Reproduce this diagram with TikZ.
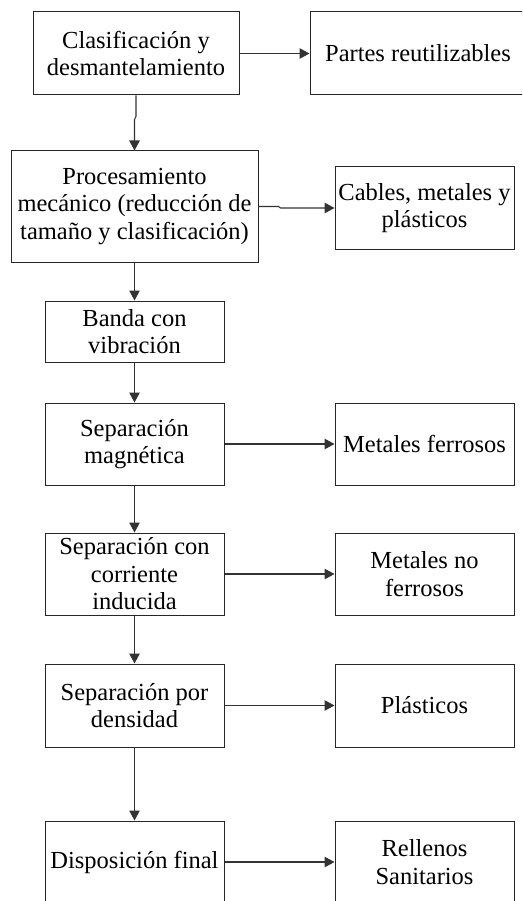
\documentclass[tikz,border=0pt]{standalone}
\usepackage{fontspec}
\setmainfont{Liberation Serif}
\usetikzlibrary{arrows.meta}
\tikzset{
  box/.style={draw=black!85, line width=1pt, rectangle, align=center, inner sep=0pt,
    font=\fontsize{24.5}{27.5}\selectfont, text=black},
  arr/.style={draw=black!80, line width=1.1pt, -{Triangle[length=10pt,width=10.5pt]}}
}
\begin{document}
\begin{tikzpicture}[x=1pt,y=-1pt]
\useasboundingbox (0,0) rectangle (522,901);
\clip (0,0) rectangle (522,901);
\fill[white] (0,0) rectangle (522,901);
\node[box, minimum width=206pt, minimum height=83pt] (b1) at (136,53.5) {Clasificación y\\desmantelamiento};
\node[box, minimum width=216pt, minimum height=83pt] (b2) at (418,53.5) {Partes reutilizables};
\node[box, minimum width=247pt, minimum height=111pt] (proc) at (134.5,206.5) {Procesamiento\\mecánico (reducción de\\tamaño y clasificación)};
\node[box, minimum width=179pt, minimum height=82pt] (cables) at (424.5,208) {Cables, metales y\\plásticos};
\node[box, minimum width=179pt, minimum height=61pt] (banda) at (134.5,331.5) {Banda con\\vibración};
\node[box, minimum width=179pt, minimum height=82pt] (sm) at (134.5,444) {Separación\\magnética};
\node[box, minimum width=179pt, minimum height=82pt] (mf) at (424.5,444) {Metales ferrosos};
\node[box, minimum width=179pt, minimum height=82pt] (sc) at (134.5,574) {Separación con\\corriente\\inducida};
\node[box, minimum width=179pt, minimum height=82pt] (mnf) at (424.5,574) {Metales no\\ferrosos};
\node[box, minimum width=179pt, minimum height=83pt] (sd) at (134.5,705.5) {Separación por\\densidad};
\node[box, minimum width=179pt, minimum height=83pt] (pl) at (424.5,705.5) {Plásticos};
\node[box, minimum width=179pt, minimum height=82pt] (df) at (134.5,862) {Disposición final};
\node[box, minimum width=179pt, minimum height=82pt] (rs) at (424.5,862) {Rellenos\\Sanitarios};
\draw[arr] (b1.east) -- (b2.west);
\draw[arr] (b1.south) -- ++(0,21) -- ++(-1.5,3) -- (proc.north);
\draw[arr] (proc.east) -- ++(20,0) -- ++(2,1.5) -- (cables.west);
\draw[arr] (proc.south) -- (banda.north);
\draw[arr] (banda.south) -- (sm.north);
\draw[arr] (sm.east) -- (mf.west);
\draw[arr] (sm.south) -- (sc.north);
\draw[arr] (sc.east) -- (mnf.west);
\draw[arr] (sc.south) -- (sd.north);
\draw[arr] (sd.east) -- (pl.west);
\draw[arr] (sd.south) -- (df.north);
\draw[arr] (df.east) -- (rs.west);
\end{tikzpicture}
\end{document}
